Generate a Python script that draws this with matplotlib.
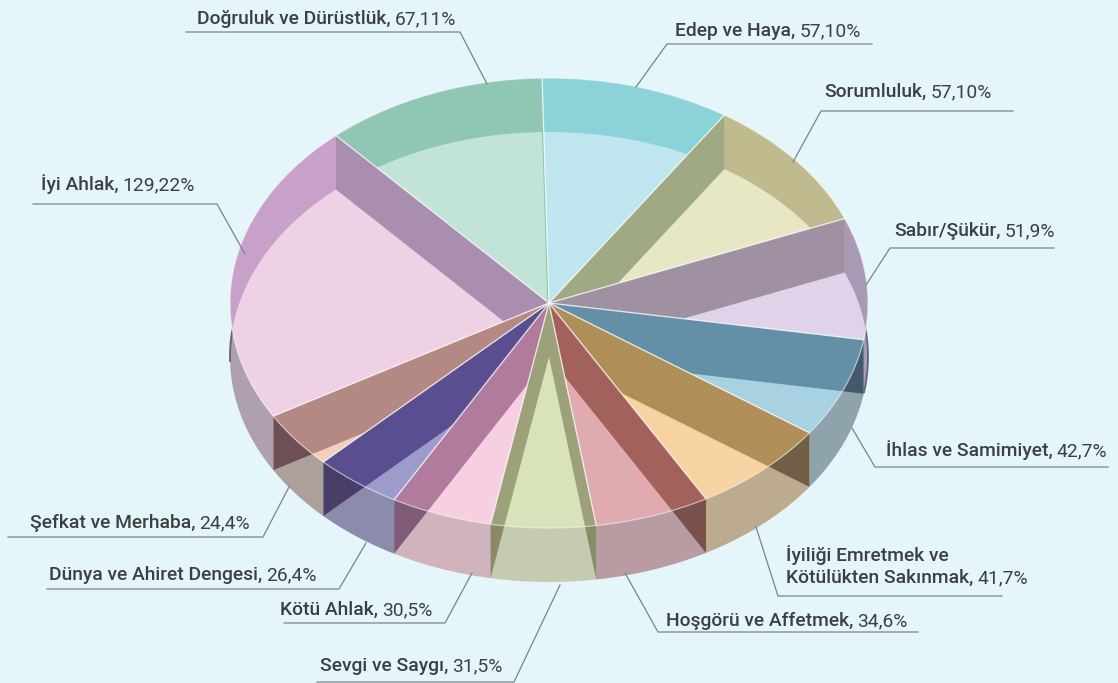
#!/usr/bin/python3
# -*- coding: utf-8 -*-
import numpy as np
import matplotlib
matplotlib.use("Agg")
import matplotlib.pyplot as plt
from matplotlib.colors import to_rgb
from matplotlib.patches import Polygon

# valeurs, dans le sens horaire a partir de "Dogruluk"
names = ["Doğruluk ve Dürüstlük,", "Edep ve Haya,", "Sorumluluk,", "Sabır/Şükür,",
         "İhlas ve Samimiyet,", "Kötülükten Sakınmak,", "Hoşgörü ve Affetmek,",
         "Sevgi ve Saygı,", "Kötü Ahlak,", "Dünya ve Ahiret Dengesi,",
         "Şefkat ve Merhaba,", "İyi Ahlak,"]
values = [67.11, 57.10, 57.10, 51.9, 42.7, 41.7, 34.6, 31.5, 30.5, 26.4, 24.4, 129.22]
value_labels = ["67,11%", "57,10%", "57,10%", "51,9%", "42,7%", "41,7%", "34,6%",
                "31,5%", "30,5%", "26,4%", "24,4%", "129,22%"]

# couleurs vues sur l'image
top_colors = ["#c1e3d8", "#bfe6ee", "#e7e7c5", "#e0d3e9", "#a8d2e2", "#f7d3a1",
              "#dfabb0", "#d8e3bc", "#f6cfe0", "#9c9ccb", "#f4cfc0", "#eed1e4"]
band_colors = ["#90c8b5", "#8cd4da", "#c1bb90", "#a99ab5", "#6490a8", "#b09058",
               "#a4625c", "#9ea27a", "#b27c9f", "#5a4f90", "#b68a84", "#c8a2cb"]
radial_colors = ["#8cc4b0", "#8cd4da", "#a0ab85", "#a091a3", "#6490a8", "#b09058",
                 "#a4625c", "#9ea27a", "#b27c9f", "#5a4f90", "#b68a84", "#ab8fb1"]
front_colors = ["#90c8b5", "#8cd4da", "#c1bb90", "#a99ab5", "#8fa3ad", "#bdab8f",
                "#b89ca2", "#c5cbb0", "#d1b3be", "#8b8cab", "#aba09b", "#aea0ad"]
shadow_colors = ["#8cc4b0", "#8cd4da", "#a0ab85", "#8a7d90", "#445a6c", "#6f5f46",
                 "#7a504c", "#8a8a66", "#7f5b78", "#493e68", "#6e4f54", "#9a8aa5"]

W, H = 1118, 683
cx, cy, rx, ry = 549, 303, 319, 225
depth = 54 / ry
start = 131.9
bg = "#e4f6fa"
txt = "#3d3f42"
line_col = "#7d8385"
plt.rcParams['font.family'] = ['Roboto', 'DejaVu Sans']


def px(x, y):
    """ pixels de l'image -> coordonnees du disque unite """
    return (x - cx) / rx, (cy - y) / ry


def mix(final, top):
    # couleur a poser en alpha 0.5 sur top pour obtenir final
    return tuple(np.clip(2 * np.array(to_rgb(final)) - np.array(to_rgb(top)), 0, 1))


fig = plt.figure(figsize=(W / 100, H / 100), dpi=100, facecolor=bg)
ax = fig.add_axes([0, 0, 1, 1])

wedges, _ = ax.pie(values, colors=top_colors, startangle=start, counterclock=False,
                   radius=1, wedgeprops=dict(linewidth=0, zorder=2))
outline, _ = ax.pie(values, startangle=start, counterclock=False, radius=1,
                    wedgeprops=dict(fill=False, edgecolor=(1, 1, 1, 0.5),
                                    linewidth=0.9, zorder=4))
ax.set_aspect("auto")
ax.set_xlim(px(0, 0)[0], px(W, 0)[0])
ax.set_ylim(px(0, H)[1], px(0, 0)[1])
ax.set_axis_off()

for i, w in enumerate(wedges):
    t = np.radians(np.linspace(w.theta1, w.theta2, 80))
    rim = np.column_stack([np.cos(t), np.sin(t)])
    band = np.vstack([rim, (rim - [0, depth])[::-1]])
    sides = []
    for a in (t[0], t[-1]):
        p = np.array([np.cos(a), np.sin(a)])
        sides.append(np.array([[0, 0], p, p - [0, depth], [0, -depth]]))

    # parois sous le bord (partie hors du disque)
    clip = Polygon(band, closed=True, transform=ax.transData, fc="none", ec="none")
    ax.add_patch(clip)
    ax.add_patch(Polygon(band, closed=True, fc=front_colors[i], ec="none", zorder=1))
    for s in sides:
        p = ax.add_patch(Polygon(s, closed=True, fc=shadow_colors[i], ec="none", zorder=1.1))
        p.set_clip_path(clip)

    # parois vues a travers le dessus
    p = ax.add_patch(Polygon(band, closed=True, fc=mix(band_colors[i], top_colors[i]),
                             ec="none", alpha=0.5, zorder=3))
    p.set_clip_path(w)
    for s in sides:
        p = ax.add_patch(Polygon(s, closed=True, fc=mix(radial_colors[i], top_colors[i]),
                                 ec="none", alpha=0.5, zorder=3.1))
        p.set_clip_path(w)

# liseres sombres aux extremites gauche et droite de la paroi
for a0, a1, col in [(-9, 7, "#4a5b6b"), (173, 181, "#55525c")]:
    t = np.radians(np.linspace(a0, a1, 30))
    ax.plot(np.cos(t), np.sin(t) - depth, color=col, lw=1.3, alpha=0.85, zorder=1.5)

# lignes de rappel
leaders = [
    [(186, 32), (460, 32), (487, 84)],
    [(636, 87), (667, 44), (872, 44)],
    [(793, 162), (821, 111), (1013, 111)],
    [(866, 285), (890, 248), (1054, 248)],
    [(852, 428), (875, 467), (1108, 467)],
    [(756, 527), (778, 596), (1002, 596)],
    [(625, 573), (658, 632), (918, 632)],
    [(560, 585), (514, 682), (317, 682)],
    [(472, 573), (445, 623), (284, 623)],
    [(366, 543), (339, 589), (47, 589)],
    [(289, 487), (263, 537), (8, 537)],
    [(245, 254), (217, 204), (33, 204)],
]
for pts in leaders:
    xy = np.array([px(*q) for q in pts])
    ax.plot(xy[:, 0], xy[:, 1], color=line_col, lw=0.9, zorder=5, solid_joinstyle="miter")

# position du texte : gauche, ligne de base
label_pos = [(197, 24), (675, 36), (824, 97), (894, 236), (886, 456), (786, 583),
             (666, 626), (320, 671), (280, 615), (49, 580), (30, 528), (41, 190)]
fs = 13.9
rend = fig.canvas.get_renderer()
inv = ax.transData.inverted()
for i, (x, y) in enumerate(label_pos):
    a = ax.text(*px(x, y), names[i], fontsize=fs, fontweight="medium", color=txt,
                va="baseline", ha="left", zorder=6)
    x1 = a.get_window_extent(rend).x1 + 4
    ax.text(inv.transform((x1, 0))[0], px(x, y)[1], value_labels[i], fontsize=fs,
            color=txt, va="baseline", ha="left", zorder=6)
ax.text(*px(786, 561), "İyiliği Emretmek ve", fontsize=fs, fontweight="medium", color=txt,
        va="baseline", ha="left", zorder=6)

fig.savefig("out.png", dpi=100, facecolor=bg)
